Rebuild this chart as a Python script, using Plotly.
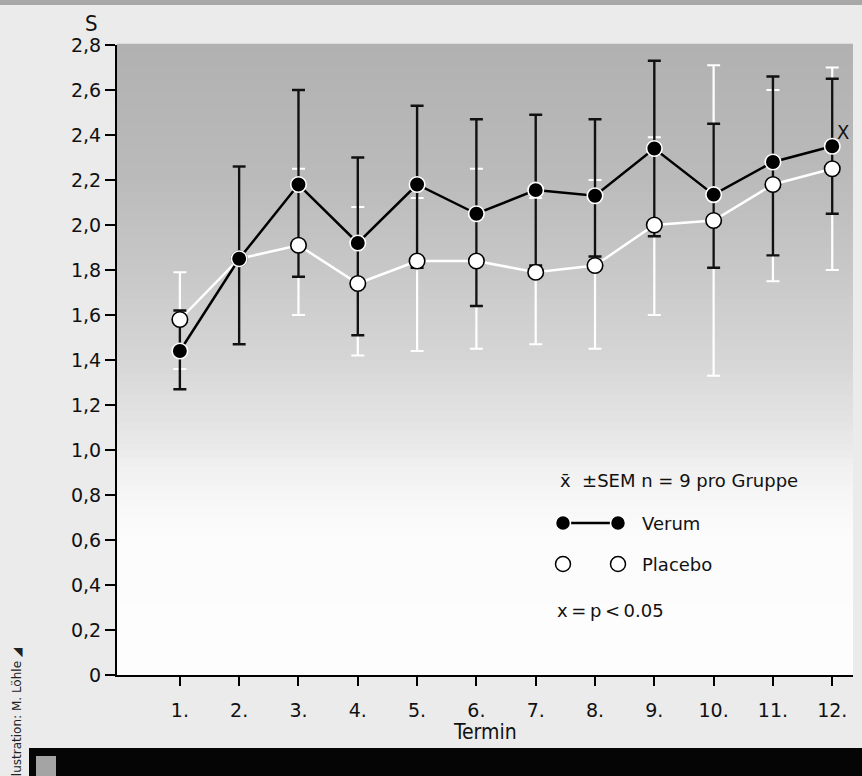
import plotly.graph_objects as go

# ---------------- data ----------------
termin = [1, 2, 3, 4, 5, 6, 7, 8, 9, 10, 11, 12]
termin_labels = ["1.", "2.", "3.", "4.", "5.", "6.", "7.", "8.", "9.", "10.", "11.", "12."]

verum_mean = [1.44, 1.85, 2.18, 1.92, 2.18, 2.05, 2.155, 2.13, 2.34, 2.135, 2.28, 2.35]
verum_sem_plus = [0.18, 0.41, 0.42, 0.38, 0.35, 0.42, 0.335, 0.34, 0.39, 0.315, 0.38, 0.30]
verum_sem_minus = [0.17, 0.38, 0.41, 0.41, 0.37, 0.41, 0.335, 0.27, 0.39, 0.325, 0.415, 0.30]

placebo_mean = [1.58, 1.85, 1.91, 1.74, 1.84, 1.84, 1.79, 1.82, 2.00, 2.02, 2.18, 2.25]
placebo_sem_plus = [0.21, 0.41, 0.34, 0.34, 0.28, 0.41, 0.33, 0.38, 0.39, 0.69, 0.42, 0.45]
placebo_sem_minus = [0.22, 0.38, 0.31, 0.32, 0.40, 0.39, 0.32, 0.37, 0.40, 0.69, 0.43, 0.45]

y_tickvals = [0, 0.2, 0.4, 0.6, 0.8, 1.0, 1.2, 1.4, 1.6, 1.8, 2.0, 2.2, 2.4, 2.6, 2.8]
y_ticktext = ["0", "0,2", "0,4", "0,6", "0,8", "1,0", "1,2", "1,4", "1,6", "1,8",
              "2,0", "2,2", "2,4", "2,6", "2,8"]

significant = [12]  # x = p < 0.05

# ---------------- layout geometry ----------------
W, H = 862, 776
L, R, T, B = 117, 9, 45, 101
PW, PH = W - L - R, H - T - B


def px2x(px):
    return (px - L) / PW


def py2y(py):
    return (H - B - py) / PH


WIDE = "DejaVu Sans, Liberation Sans, Arial, sans-serif"
NARROW = "Liberation Sans Narrow, DejaVu Sans Condensed, Arial Narrow, Liberation Sans, sans-serif"

fig = go.Figure()

# placebo line + error bars (white)
fig.add_trace(go.Scatter(
    x=termin, y=placebo_mean, mode="lines", name="Placebo",
    line=dict(color="white", width=2.5),
    error_y=dict(type="data", symmetric=False, array=placebo_sem_plus,
                 arrayminus=placebo_sem_minus, color="white", thickness=2.2, width=6.5),
    showlegend=False, hoverinfo="skip"))

# verum line + error bars (black)
fig.add_trace(go.Scatter(
    x=termin, y=verum_mean, mode="lines", name="Verum",
    line=dict(color="black", width=2.5),
    error_y=dict(type="data", symmetric=False, array=verum_sem_plus,
                 arrayminus=verum_sem_minus, color="#111111", thickness=2.4, width=6.5),
    showlegend=False, hoverinfo="skip"))

# markers
fig.add_trace(go.Scatter(
    x=termin, y=placebo_mean, mode="markers", showlegend=False,
    marker=dict(size=15.5, color="white", line=dict(color="black", width=1.6))))
fig.add_trace(go.Scatter(
    x=termin, y=verum_mean, mode="markers", showlegend=False,
    marker=dict(size=15.5, color="black", line=dict(color="white", width=1.6))))

shapes = []
# gradient plot background
N = 90
stops = [(0.0, 253), (0.22, 252), (0.32, 242), (0.38, 231), (0.50, 214),
         (0.65, 199), (0.80, 186), (1.0, 177)]


def grey_at(f):
    for (a, ca), (b, cb) in zip(stops[:-1], stops[1:]):
        if a <= f <= b:
            t = (f - a) / (b - a)
            return round(ca + (cb - ca) * t)
    return stops[-1][1]


for i in range(N):
    f0, f1 = i / N, (i + 1) / N
    g = grey_at((f0 + f1) / 2)
    shapes.append(dict(type="rect", xref="paper", yref="paper", x0=0, x1=1,
                       y0=f0, y1=f1 + 0.002, layer="below", line=dict(width=0),
                       fillcolor=f"rgb({g},{g},{g})"))

# top grey band and bottom black band
shapes.append(dict(type="rect", xref="paper", yref="paper", x0=px2x(-5), x1=px2x(870),
                   y0=py2y(5), y1=py2y(-5), line=dict(width=0), fillcolor="#a8a8a8"))
shapes.append(dict(type="rect", xref="paper", yref="paper", x0=px2x(29), x1=px2x(870),
                   y0=py2y(785), y1=py2y(748), line=dict(width=0), fillcolor="#050505"))
shapes.append(dict(type="rect", xref="paper", yref="paper", x0=px2x(36), x1=px2x(56),
                   y0=py2y(785), y1=py2y(756), line=dict(width=0), fillcolor="#a4a4a4"))

# legend symbols
for py, fill, edge in [(523, "black", "white"), (564, "white", "black")]:
    if fill == "black":
        shapes.append(dict(type="line", xref="paper", yref="paper",
                           x0=px2x(563), x1=px2x(618), y0=py2y(py), y1=py2y(py),
                           line=dict(color="black", width=2.5)))
    for px in (563, 618):
        shapes.append(dict(type="circle", xref="paper", yref="paper",
                           xsizemode="pixel", ysizemode="pixel",
                           xanchor=px2x(px), yanchor=py2y(py),
                           x0=-7.5, x1=7.5, y0=-7.5, y1=7.5,
                           fillcolor=fill, line=dict(color=edge, width=1.5)))


def note(text, px, py, size, family=WIDE, xanchor="center", **kw):
    return dict(text=text, x=px2x(px), y=py2y(py), xref="paper", yref="paper",
                xanchor=xanchor, yanchor="middle", showarrow=False,
                font=dict(family=family, size=size, color="#111"), **kw)


annotations = [
    note("S", 91, 24, 22, NARROW),
    note("Termin", L + PW / 2, 732, 21, NARROW),
    note("x\u0304  \u00b1SEM n = 9 pro Gruppe", 558, 480, 18, xanchor="left"),
    note("Verum", 640, 523, 18, xanchor="left"),
    note("Placebo", 640, 564, 18, xanchor="left"),
    note("x\u2009=\u2009p\u2009<\u20090.05", 555, 610, 18, xanchor="left"),
    dict(text="Illustration: M. L\u00f6hle \u25e2", x=px2x(17), y=py2y(645),
         xref="paper", yref="paper", xanchor="center", yanchor="top",
         textangle=-90, showarrow=False,
         font=dict(family=WIDE, size=12, color="#222")),
]
for k in significant:
    annotations.append(dict(text="X", x=k, y=verum_mean[k - 1], xref="x", yref="y",
                            xanchor="center", yanchor="middle",
                            xshift=11, yshift=14, showarrow=False,
                            font=dict(family=NARROW, size=20, color="#111")))

fig.update_layout(
    width=W, height=H,
    margin=dict(l=L, r=R, t=T, b=B, pad=0),
    paper_bgcolor="#ebebeb", plot_bgcolor="#ffffff",
    shapes=shapes, annotations=annotations, showlegend=False,
    xaxis=dict(range=[-0.06, 12.35], tickvals=termin, ticktext=termin_labels,
               showgrid=False, zeroline=False, showline=True, linecolor="black",
               linewidth=2, ticks="outside", ticklen=9, tickwidth=1.5, tickcolor="black",
               ticklabelstandoff=8,
               tickfont=dict(family=WIDE, size=19, color="#111")),
    yaxis=dict(range=[0, 2.8], tickvals=y_tickvals, ticktext=y_ticktext,
               showgrid=False, zeroline=False, showline=True, linecolor="black",
               linewidth=2, ticks="outside", ticklen=10, tickwidth=1.5, tickcolor="black",
               tickfont=dict(family=WIDE, size=19, color="#111")),
)

fig.write_html("out.html",
               config={"displayModeBar": False},
               post_script="document.body.style.margin='0px';"
                           "document.body.style.overflow='hidden';")
